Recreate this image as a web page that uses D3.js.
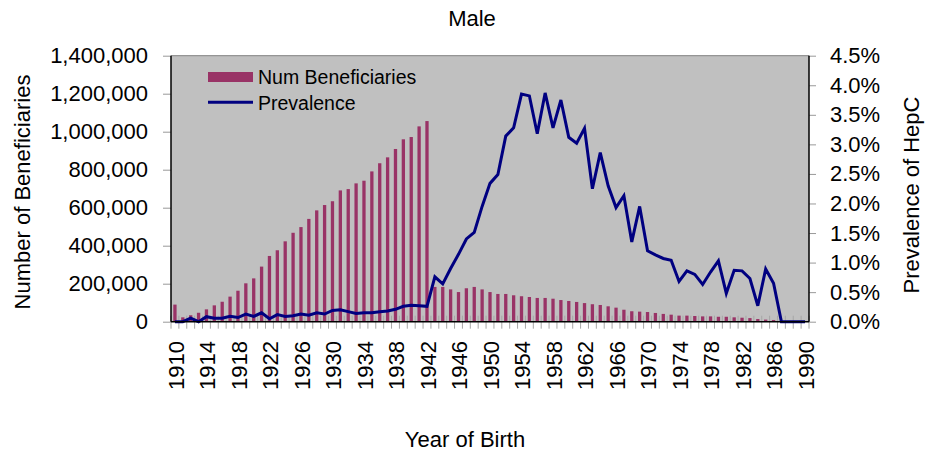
<!DOCTYPE html>
<html>
<head>
<meta charset="utf-8">
<script src="https://cdn.jsdelivr.net/npm/d3@7"></script>
<style>
	body { margin: 0; background: #fff; }
	text { font-family: "Liberation Sans", Arial, sans-serif; fill: #000; }
</style>
</head>
<body>
<svg id="chart"></svg>
<script>
// categories: birth years 1910..1990
let years = d3.range(1910, 1991);

// number of beneficiaries per birth year
let beneficiaries = [
	90000, 23000, 34000, 47000, 65000, 86000, 105000, 132000, 163000, 202000,
	228000, 290000, 346000, 376000, 423000, 468000, 498000, 541000, 586000, 614000,
	634000, 691000, 698000, 728000, 742000, 791000, 834000, 865000, 909000, 960000,
	972000, 1028000, 1056000, 183000, 183000, 170000, 156000, 176000, 183000, 170000,
	156000, 146000, 146000, 139000, 134000, 130000, 125000, 125000, 121000, 114000,
	109000, 104000, 98000, 92000, 88000, 81000, 74000, 63000, 55000, 53000,
	51000, 46000, 41000, 37000, 32000, 32000, 30000, 28000, 28000, 26000,
	26000, 23000, 21000, 19000, 14000, 11000, 9000, 4000, 1000, 0,
	0
];

// prevalence of HepC, percent
let prevalence = [
	0, 0, 0.06, 0, 0.085, 0.06, 0.06, 0.09, 0.07, 0.13,
	0.09, 0.15, 0.05, 0.12, 0.09, 0.10, 0.13, 0.11, 0.15, 0.13,
	0.19, 0.20, 0.17, 0.14, 0.15, 0.15, 0.17, 0.18, 0.21, 0.26,
	0.28, 0.27, 0.26, 0.76, 0.64, 0.90, 1.14, 1.40, 1.51, 1.95,
	2.34, 2.49, 3.14, 3.28, 3.85, 3.82, 3.18, 3.87, 3.28, 3.75,
	3.12, 3.02, 3.27, 2.25, 2.86, 2.30, 1.93, 2.13, 1.35, 1.95,
	1.20, 1.13, 1.07, 1.04, 0.68, 0.86, 0.80, 0.63, 0.84, 1.03,
	0.48, 0.87, 0.86, 0.73, 0.27, 0.89, 0.65, 0, 0, 0,
	0
];

let leftTicks = [0, 200000, 400000, 600000, 800000, 1000000, 1200000, 1400000];
let rightTicks = [0, 0.5, 1.0, 1.5, 2.0, 2.5, 3.0, 3.5, 4.0, 4.5];
let xLabelYears = [1910, 1914, 1918, 1922, 1926, 1930, 1934, 1938, 1942, 1946, 1950,
	1954, 1958, 1962, 1966, 1970, 1974, 1978, 1982, 1986, 1990];

let w = 926;
let h = 457;
let plotL = 171, plotR = 809, plotT = 55.7, plotB = 321.7;

let barColor = '#993366';
let lineColor = '#000080';

let chart = d3.select('#chart').attr('width', w).attr('height', h);

let xScale = d3.scaleBand()
	.domain(years)
	.range([plotL, plotR])
	.padding(0);

let yLeft = d3.scaleLinear().domain([0, 1400000]).range([plotB, plotT]);
let yRight = d3.scaleLinear().domain([0, 4.5]).range([plotB, plotT]);

let barW = 3.3;

// plot background
chart.append('rect')
	.attr('x', plotL).attr('y', plotT)
	.attr('width', plotR - plotL).attr('height', plotB - plotT)
	.attr('fill', '#c0c0c0');

// top border
chart.append('line')
	.attr('x1', plotL).attr('x2', plotR)
	.attr('y1', plotT).attr('y2', plotT)
	.attr('stroke', '#808080').attr('stroke-width', 1);

// bars
chart.append('g')
	.selectAll('rect')
	.data(years)
	.enter()
	.append('rect')
	.attr('x', (d) => xScale(d) + xScale.bandwidth() / 2 - barW / 2)
	.attr('width', barW)
	.attr('y', (d, i) => yLeft(beneficiaries[i]))
	.attr('height', (d, i) => plotB - yLeft(beneficiaries[i]))
	.attr('fill', barColor);

// category tick marks crossing the bottom axis
let boundaries = years.map(d => xScale(d)).concat([plotR]);
chart.append('g')
	.selectAll('line')
	.data(boundaries)
	.enter()
	.append('line')
	.attr('x1', d => d).attr('x2', d => d)
	.attr('y1', plotB - 6).attr('y2', plotB + 7)
	.attr('stroke', '#a6a6a6').attr('stroke-width', 1);

// prevalence line
let line = d3.line()
	.x((d) => xScale(d) + xScale.bandwidth() / 2)
	.y((d, i) => yRight(prevalence[i]));

chart.append('path')
	.datum(years)
	.attr('d', line)
	.attr('fill', 'none')
	.attr('stroke', lineColor)
	.attr('stroke-width', 3)
	.attr('stroke-linejoin', 'miter');

// AXES
let leftAxis = d3.axisLeft(yLeft)
	.tickValues(leftTicks)
	.tickSize(8)
	.tickPadding(15)
	.tickFormat(d3.format(','));

let gl = chart.append('g')
	.attr('transform', `translate(${plotL},0)`)
	.call(leftAxis);
gl.select('.domain').remove();
gl.selectAll('.tick line').attr('stroke', '#999');
gl.selectAll('.tick text').style('font-size', '22px').attr('font-family', null);

let rightAxis = d3.axisRight(yRight)
	.tickValues(rightTicks)
	.tickSize(7)
	.tickPadding(14)
	.tickFormat(d => d.toFixed(1) + '%');

let gr = chart.append('g')
	.attr('transform', `translate(${plotR},0)`)
	.call(rightAxis);
gr.select('.domain').remove();
gr.selectAll('.tick line').attr('stroke', '#999');
gr.selectAll('.tick text').style('font-size', '22px').attr('font-family', null);

// axis lines
chart.append('line')
	.attr('x1', plotL).attr('x2', plotL).attr('y1', plotT).attr('y2', plotB)
	.attr('stroke', '#000').attr('stroke-width', 1.5);
chart.append('line')
	.attr('x1', plotR).attr('x2', plotR).attr('y1', plotT).attr('y2', plotB)
	.attr('stroke', '#000').attr('stroke-width', 1.5);
chart.append('line')
	.attr('x1', plotL).attr('x2', plotR).attr('y1', plotB).attr('y2', plotB)
	.attr('stroke', '#000').attr('stroke-width', 1.5);

// x labels, rotated
chart.append('g')
	.selectAll('text')
	.data(xLabelYears)
	.enter()
	.append('text')
	.attr('transform', d => `translate(${xScale(d) + xScale.bandwidth() / 2 + 1},341) rotate(-90)`)
	.attr('dy', '0.35em')
	.style('text-anchor', 'end')
	.style('font-size', '22px')
	.text(d => d);

// LEGEND
chart.append('rect')
	.attr('x', 208).attr('y', 72)
	.attr('width', 45).attr('height', 10)
	.attr('fill', barColor);
chart.append('text')
	.attr('x', 258).attr('y', 83.5)
	.style('font-size', '19.5px')
	.text('Num Beneficiaries');
chart.append('line')
	.attr('x1', 208).attr('x2', 253)
	.attr('y1', 102.3).attr('y2', 102.3)
	.attr('stroke', lineColor).attr('stroke-width', 3);
chart.append('text')
	.attr('x', 258).attr('y', 109.5)
	.style('font-size', '19.5px')
	.text('Prevalence');

// LABELS
chart.append('text')
	.attr('x', 472).attr('y', 26)
	.style('text-anchor', 'middle')
	.style('font-size', '22px')
	.text('Male');

chart.append('text')
	.attr('x', 465).attr('y', 447)
	.style('text-anchor', 'middle')
	.style('font-size', '22px')
	.text('Year of Birth');

chart.append('text')
	.attr('transform', 'translate(30,192) rotate(-90)')
	.style('text-anchor', 'middle')
	.style('font-size', '22px')
	.text('Number of Beneficiaries');

chart.append('text')
	.attr('transform', 'translate(919,195) rotate(-90)')
	.style('text-anchor', 'middle')
	.style('font-size', '22px')
	.text('Prevalence of HepC');
</script>
</body>
</html>
